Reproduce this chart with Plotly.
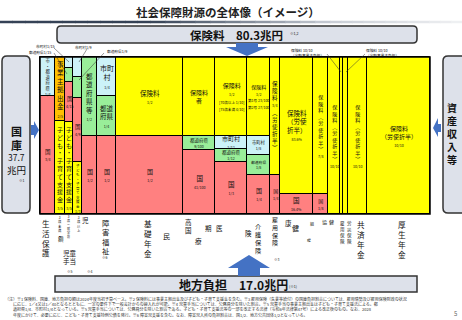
import plotly.graph_objects as go

FONT = "Noto Sans CJK JP"
FIG_W, FIG_H = 462, 320

# ---------------- data ----------------
title_text = "社会保障財源の全体像（イメージ）"
insurance_name = "保険料"
insurance_total = 80.3
treasury_name = "国庫"
treasury_total = 37.7
local_name = "地方負担"
local_total = 17.0
asset_name = "資産収入等"
unit = "兆円"

# column widths (relative size of each programme)
col_widths = [15, 10, 8, 9, 15, 19, 67, 32, 32, 23, 10, 33, 15, 12, 3, 5, 19, 63]

# financing segments, top to bottom
seg_kinds = [
    ["muni", "kuni"],
    ["emp", "kodomo"],
    ["muni", "pref", "kuni", "kodomo"],
    ["muni", "pref", "kuni", "kodomo"],
    ["pref", "kuni"],
    ["muni", "pref", "kuni"],
    ["ins", "kuni"],
    ["ins", "pref", "kuni"],
    ["ins", "muni", "pref", "kuni"],
    ["ins", "muni", "pref", "kuni"],
    ["ins", "kuni"],
    ["ins", "kuni"],
    ["ins", "kuni"],
    ["ins"], ["ins"], ["ins"], ["ins"], ["ins"],
]
seg_fracs = [
    [0.25, 0.75],
    [0.41, 0.59],
    [0.07, 0.09, 0.255, 0.585],
    [0.127, 0.134, 0.408, 0.331],
    [0.5, 0.5],
    [0.25, 0.25, 0.5],
    [0.5, 0.5],
    [0.5, 0.09, 0.41],
    [0.5, 0.083, 0.084, 0.333],
    [0.5, 0.125, 0.125, 0.25],
    [0.75, 0.25],
    [0.87, 0.13],
    [0.875, 0.125],
    [1.0], [1.0], [1.0], [1.0], [1.0],
]
seg_texts = [
    ["市・都道府県|1/4", "国|3/4"],
    ["事業主拠出金|2/5", "子ども・子育て支援金|3/5"],
    ["", "", "国|4/15", "子ども・子育て支援金|3/5"],
    ["", "", "国|4/9", "子ども・子育て支援金|1/3"],
    ["都道府県等|1/2", "国|1/2"],
    ["市町\n村|1/4", "都道\n府県|1/4", "国|1/2"],
    ["保険料|1/2", "国|1/2"],
    ["保険料\n者", "都道府県|9/100", "国|41/100"],
    ["保険料|1/2\n[70歳以上 1/10]\n[75歳未満 4/10]", "市町村|1/12", "都道府県|1/12", "国|1/3"],
    ["保険料|1/2\n第1号 23/100\n第2号 27/100", "市町村|1/8", "都道府県|1/8", "国|1/4"],
    ["保険料|3/4|︵労使折半︶", "国|1/4"],
    ["保険料\n（労使\n折半）|83.6%", "国|16.4%"],
    ["保険料︵労使折半︶|7/8", "国|1/8"],
    ["保険料︵労使折半︶|10/10"],
    [""], [""],
    ["保険料︵労使折半︶|10/10"],
    ["保険料\n（労使折半）|10/10"],
]
# programme labels under the columns: (column index, label)
bottom_labels = [(0, "生活保護"), (5, "障害福祉"), (6, "基礎年金"), (9, "介護保険"),
                 (10, "雇用保険"), (16, "共済年金"), (17, "厚生年金")]

footnotes = [
    "（注）※1 保険料、国庫、地方負担の額は2024年度当初予算ベース。※2 保険料には事業主拠出金及び子ども・子育て支援金を含む。※3 雇用保険（失業等給付）の国庫負担割合については、雇用情勢及び雇用保険財政の状況",
    "　　に応じ、1／4又は1／40となるとともに、一定の要件下で一般会計からの繰入れが可能。※4 児童手当については、公務員分を除いた割合。※5 児童手当の事業主拠出金は子ども・子育て支援法による。都",
    "　　道府県1/4、市町村1/4となっている。※5 児童手当については、公務員分を除いた割合である。子ども・子育て支援法等の一部を改正する法律（令和6年法律第47号）による改正後のもの。なお、2028",
    "　　年度にかけて、必要に応じ、こども・子育て支援特例公債を発行。※6 障害児支援を含む。なお、障害児入所の負担割合は、国1/2、地方公共団体1/2となっている。",
]

# ---------------- styles ----------------
color_map = {"ins": "#FFFF00", "kodomo": "#FFFF00", "kuni": "#FF8080",
             "pref": "#99EE99", "muni": "#CCF2F8", "emp": "#FFC000"}
col_orient = ["v", "v", "v", "v", "v", "h", "h", "h", "h", "h", "v", "h", "v", "v", "v", "v", "v", "h"]
label_sizes = [
    [4.3, 5.5], [6.5, 6], [0, 0, 5.5, 6], [0, 0, 5.5, 3.5], [6.5, 6], [7, 6.5, 6],
    [6.5, 6], [6, 4.5, 6.5], [6, 6, 4.5, 6.5], [5, 4.3, 3.8, 6], [5.5, 5], [6.5, 6.5],
    [5, 5], [5], [0], [0], [5], [6],
]
# size, x nudge (px), top y (px)
bottom_style = {0: (7.5, -1.5, 217), 5: (7.3, -0.5, 217), 6: (7.6, -1.5, 217),
                9: (6.2, 0, 221), 10: (6, 0, 214), 16: (7.6, 3.5, 218), 17: (7.7, 3.5, 218)}
SMALL = 3.6
BLUE = "#4472C4"
BOXFILL = "#DDE1EA"
BOXLINE = "#333333"

PLOT_L, PLOT_R, PLOT_T, PLOT_B = 40, 430, 57, 214


def px(x):
    return x / FIG_W


def py(y):
    return 1 - y / FIG_H


def fmt_label(text, orient):
    lines = []
    for i, p in enumerate(text.split("|")):
        if not p:
            continue
        if i % 2 == 1:
            for s in p.split("\n"):
                lines.append(f"<span style='font-size:{SMALL}px'>{s}</span>")
        elif orient == "v":
            lines.extend(list(p.replace("\n", "")))
        else:
            lines.extend(p.split("\n"))
    return "<br>".join(lines)


def path_from(points):
    return "M " + " L ".join(f"{px(x):.5f},{py(y):.5f}" for x, y in points) + " Z"


def rrect(x0, y0, x1, y1, r):
    P = lambda x, y: f"{px(x):.5f},{py(y):.5f}"
    return (f"M {P(x0 + r, y0)} L {P(x1 - r, y0)} Q {P(x1, y0)} {P(x1, y0 + r)} "
            f"L {P(x1, y1 - r)} Q {P(x1, y1)} {P(x1 - r, y1)} L {P(x0 + r, y1)} "
            f"Q {P(x0, y1)} {P(x0, y1 - r)} L {P(x0, y0 + r)} Q {P(x0, y0)} {P(x0 + r, y0)} Z")


# ---------------- build cells ----------------
xs, ws, bases, hs, cols = [], [], [], [], []
annotations = []
col_centers = []
left = 0.0
for i, w in enumerate(col_widths):
    cx = left + w / 2
    col_centers.append(cx)
    top = 1.0
    for j, (k, f) in enumerate(zip(seg_kinds[i], seg_fracs[i])):
        b = top - f
        xs.append(cx); ws.append(w); bases.append(b); hs.append(f); cols.append(color_map[k])
        t = seg_texts[i][j]
        if t:
            annotations.append(dict(x=cx, y=(top + b) / 2, xref="x", yref="y", showarrow=False,
                                    text=fmt_label(t, col_orient[i]), align="center", borderpad=0,
                                    font=dict(family=FONT, size=label_sizes[i][j], color="#111")))
        top = b
    left += w
total_w = left

fig = go.Figure()
fig.add_trace(go.Bar(x=xs, y=hs, base=bases, width=ws,
                     marker=dict(color=cols, line=dict(color="black", width=1)),
                     hoverinfo="skip", showlegend=False))

shapes = []
shapes.append(dict(type="rect", xref="x", yref="y", x0=0, x1=total_w, y0=0, y1=1,
                   line=dict(color="black", width=1.5), fillcolor="rgba(0,0,0,0)"))


def txt(s, x, y, size, bold=False, color="#111", xanchor="center", yanchor="middle", align="center"):
    annotations.append(dict(x=px(x), y=py(y), xref="paper", yref="paper", showarrow=False,
                            text=f"<b>{s}</b>" if bold else s, xanchor=xanchor, yanchor=yanchor,
                            align=align, borderpad=0, font=dict(family=FONT, size=size, color=color)))


def vcol(s, x, ytop, size, color="#111"):
    txt("<br>".join(list(s)), x, ytop, size, color=color, yanchor="top")


# title + gradient rule
txt(title_text, 228, 12, 11.5, bold=True, color="#222")


def lerp(c1, c2, t):
    return "#" + "".join(f"{int(round(a + (b - a) * t)):02x}" for a, b in zip(c1, c2))


stops = [(0, (0x35, 0x42, 0x56)), (150, (0x35, 0x42, 0x56)), (330, (0xC8, 0xCD, 0xD5)), (462, (0xF0, 0xF1, 0xF3))]
for si in range(len(stops) - 1):
    xa, ca = stops[si]
    xb, cb = stops[si + 1]
    n = 12
    for k in range(n):
        x0 = xa + (xb - xa) * k / n
        x1 = xa + (xb - xa) * (k + 1) / n
        shapes.append(dict(type="line", xref="paper", yref="paper", x0=px(x0), x1=px(x1 + 0.5),
                           y0=py(22), y1=py(22), line=dict(color=lerp(ca, cb, (k + 0.5) / n), width=2.5)))

# boxes
for (x0, y0, x1, y1, r) in [(57, 26, 417, 43, 4), (2, 56, 30, 213, 5), (443, 56, 476, 213, 5)]:
    shapes.append(dict(type="path", xref="paper", yref="paper", path=rrect(x0, y0, x1, y1, r),
                       fillcolor=BOXFILL, line=dict(color=BOXLINE, width=1.5)))
shapes.append(dict(type="rect", xref="paper", yref="paper", x0=px(55), x1=px(417), y0=py(292), y1=py(276),
                   fillcolor=BOXFILL, line=dict(color=BOXLINE, width=1.5)))

# arrows
for pts in [[(236, 43), (258, 43), (258, 47), (268, 47), (247, 56), (226, 47), (236, 47)],
            [(238, 276), (260, 276), (260, 268), (270, 268), (249, 255), (228, 268), (238, 268)],
            [(31, 125), (34, 125), (34, 121), (39, 130), (34, 139), (34, 135), (31, 135)],
            [(441, 124), (438, 124), (438, 118), (433, 128), (438, 137), (438, 132), (441, 132)]]:
    shapes.append(dict(type="path", xref="paper", yref="paper", line=dict(width=0), fillcolor=BLUE,
                       path=path_from(pts)))

# box texts
txt(f"{insurance_name}　{insurance_total}{unit}", 236, 35, 11.5, bold=True)
txt("※1,2", 294, 34, 3.6)
txt(f"{local_name}　{local_total}{unit}", 234, 284, 12, bold=True)
txt("(※1)", 293, 286, 3.6)
txt("<br>".join(treasury_name), 16, 137.5, 11, bold=True)
txt(f"{treasury_total}", 16, 157, 8.5)
txt(unit, 16, 169.5, 9.5)
txt("※1", 22, 180, 3.5)
txt("<br>".join(asset_name), 452, 133, 10, bold=True)

# small notes above the chart with leader lines
for s, x, y in [("市町村1/15", 45, 47), ("都道府県1/15", 40, 52.5), ("市町村1/9", 83, 47.5),
                ("都道府県1/9", 117, 51.5)]:
    txt(s, x, y, 3.7)
for x in [290, 365]:
    txt("保険料 10/10<br>（全額事業主負担）", x, 47, 3.7, xanchor="left", yanchor="top", align="left")
for (x0, y0, x1, y1) in [(54, 48, 69, 62), (54, 53, 67, 74), (87, 49, 79, 62), (104, 53, 79, 80),
                         (327, 54, 341, 72), (365, 54, 346, 72)]:
    shapes.append(dict(type="line", xref="paper", yref="paper", x0=px(x0), y0=py(y0), x1=px(x1), y1=py(y1),
                       line=dict(color="#333", width=0.5)))

# bottom programme labels
for ci, lab in bottom_labels:
    size, nudge, y0 = bottom_style[ci]
    cxp = PLOT_L + col_centers[ci] * (PLOT_R - PLOT_L) / total_w + nudge
    vcol(lab, cxp, y0, size)

# scattered label fragments
vcol("3歳未満", 59.5, 214, 3.3)
vcol("3歳〜就学前", 68.5, 214, 3.0)
vcol("3歳以上", 78.5, 214, 3.3)
vcol("雇用保険", 342.5, 219, 4.5)
vcol("労災保険", 349.5, 219, 4.5)
for s, x, y, size in [("額", 61, 239, 5.5), ("児", 85.5, 220, 6.5), ("児童<br>手当", 69.5, 257, 6.5),
                      ("※5", 70, 271.5, 3.5), ("※4", 90, 271.5, 3.5), ("※6", 105, 257, 3.5),
                      ("民", 166.5, 236, 7), ("高<br>国", 188.5, 226, 6.5), ("療", 198.5, 241, 6.5),
                      ("期", 208.5, 228, 6.5), ("医", 219, 228, 6.5), ("険", 248.5, 233, 6.5),
                      ("康", 288.5, 223, 6.5), ("健", 295, 228, 7), ("組", 311.5, 224, 4), ("曜", 308.5, 240, 3.8),
                      ("協", 324, 222, 5), ("健", 331, 222, 5), ("※3", 277, 259, 3.5)]:
    txt(s, x, y, size)

# footnotes (single block)
txt("<br>".join(footnotes), 4, 294.5, 4.0, color="#333", xanchor="left", yanchor="top", align="left")
txt("5", 455, 313, 6, color="#666")

pad_y = 1.0 / (PLOT_B - PLOT_T)
fig.update_layout(
    width=FIG_W, height=FIG_H, margin=dict(l=0, r=0, t=0, b=0, autoexpand=False),
    paper_bgcolor="white", plot_bgcolor="white", barmode="overlay", bargap=0,
    xaxis=dict(domain=[px(PLOT_L - 1), px(PLOT_R + 1)], range=[-1, total_w + 1], visible=False, fixedrange=True),
    yaxis=dict(domain=[py(PLOT_B + 1), py(PLOT_T - 1)], range=[-pad_y, 1 + pad_y], visible=False, fixedrange=True),
    shapes=shapes, annotations=annotations, showlegend=False,
    font=dict(family=FONT),
)
fig.write_html("out.html", config={"displayModeBar": False})
